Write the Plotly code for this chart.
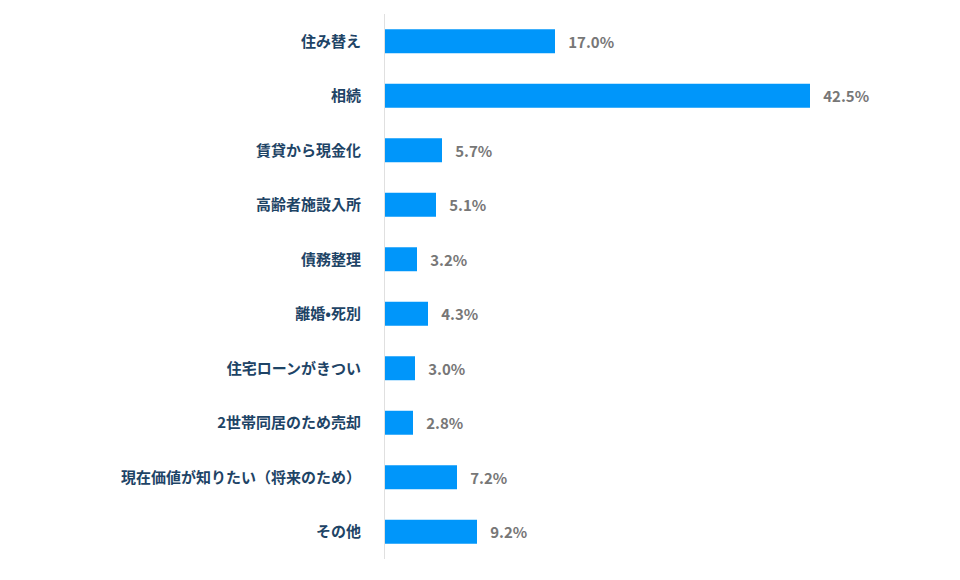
import plotly.graph_objects as go

categories = ["住み替え", "相続", "賃貸から現金化", "高齢者施設入所", "債務整理", "離婚•死別",
              "住宅ローンがきつい", "2世帯同居のため売却", "現在価値が知りたい（将来のため）", "その他"]
values = [17.0, 42.5, 5.7, 5.1, 3.2, 4.3, 3.0, 2.8, 7.2, 9.2]
labels = [f"\u00a0\u00a0\u00a0{v:.1f}%" for v in values]

fig = go.Figure(go.Bar(
    y=categories, x=values, orientation="h", width=0.44,
    marker=dict(color="#0096fa", line=dict(width=0)),
    text=labels, textposition="outside", cliponaxis=False,
    textfont=dict(family="Noto Sans CJK JP", size=15, color="#777777", weight="bold"),
))
fig.update_layout(
    width=960, height=580, plot_bgcolor="white", paper_bgcolor="white",
    margin=dict(l=377, r=8, t=6, b=29), showlegend=False,
    xaxis=dict(range=[0, 57.5], visible=False, showgrid=False),
    yaxis=dict(autorange="reversed", showgrid=False, showline=True, linecolor="#e0e0e0",
               linewidth=1, ticks="", ticklabelstandoff=20,
               tickfont=dict(family="Noto Sans CJK JP", size=15, color="#1e4466", weight="bold")),
)
fig.write_html("out.html")
